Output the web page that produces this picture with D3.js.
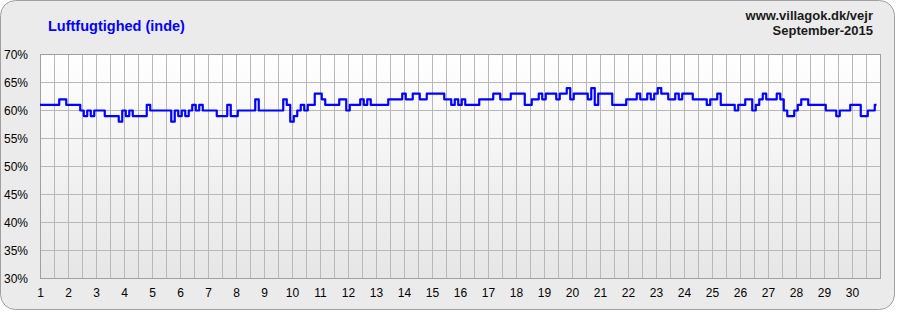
<!DOCTYPE html>
<html>
<head>
<meta charset="utf-8">
<script src="https://cdn.jsdelivr.net/npm/d3@7/dist/d3.min.js"></script>
<style>
  body { margin: 0; background: #fff; }
  svg { display: block; font-family: "Liberation Sans", Arial, sans-serif; }
</style>
</head>
<body>
<svg width="897" height="312"></svg>
<script>
// humidity readings, 8 per day (every 3 hours), Sept 1 - 30
const humidity = [
  61,61,61,61,61,61,62,62, // 1
  61,61,61,61,60,59,60,59, // 2
  60,60,60,59,59,59,59,58, // 3
  60,59,60,59,59,59,59,61, // 4
  60,60,60,60,60,60,58,60, // 5
  59,60,59,60,61,60,61,60, // 6
  60,60,60,59,59,59,61,59, // 7
  59,60,60,60,60,60,62,60, // 8
  60,60,60,60,60,60,62,61, // 9
  58,59,60,61,60,61,61,63, // 10
  63,62,61,61,61,61,62,62, // 11
  60,61,61,61,62,61,62,61, // 12
  61,61,61,61,62,62,62,62, // 13
  63,62,62,63,63,62,62,63, // 14
  63,63,63,63,62,62,61,62, // 15
  61,62,61,61,61,61,62,62, // 16
  62,62,63,63,62,62,62,63, // 17
  63,63,63,61,61,62,62,63, // 18
  62,63,63,63,62,63,63,64, // 19
  62,63,63,63,63,62,64,61, // 20
  63,63,63,63,61,61,61,61, // 21
  62,62,62,63,62,62,63,62, // 22
  63,64,63,63,62,62,63,62, // 23
  63,63,63,62,62,62,62,61, // 24
  62,62,63,61,61,61,61,60, // 25
  61,61,62,62,60,61,62,63, // 26
  62,62,62,63,62,60,59,59, // 27
  60,61,62,62,61,61,61,61, // 28
  61,60,60,60,59,60,60,60, // 29
  61,61,61,59,59,60,60,61  // 30
]
const perDay = 8

const dayLabels = ["1","2","3","4","5","6","7","8","9","10","11","12","13","14","15",
                   "16","17","18","19","20","21","22","23","24","25","26","27","28","29","30"]
const yTicks = [30, 35, 40, 45, 50, 55, 60, 65, 70]

const title = "Luftfugtighed (inde)"
const site = "www.villagok.dk/vejr"
const period = "September-2015"

const svg = d3.select("svg")

const plotLeft = 40, plotRight = 880, plotTop = 54.5, plotBottom = 278.5

const x = d3.scaleLinear().domain([0, dayLabels.length]).range([plotLeft, plotRight])
const y = d3.scaleLinear().domain([30, 70]).range([plotBottom, plotTop])

// background panel
svg.append("rect")
  .attr("x", 0.5).attr("y", 0.5)
  .attr("width", 894).attr("height", 309)
  .attr("rx", 15).attr("ry", 15)
  .attr("fill", "#ebebeb")
  .attr("stroke", "#a0a0a0")

const defs = svg.append("defs")
const grad = defs.append("linearGradient")
  .attr("id", "plotbg")
  .attr("x1", 0).attr("y1", 0).attr("x2", 0).attr("y2", 1)
grad.append("stop").attr("offset", "0%").attr("stop-color", "#ffffff")
grad.append("stop").attr("offset", "100%").attr("stop-color", "#e6e6e6")

svg.append("rect")
  .attr("x", plotLeft).attr("y", plotTop)
  .attr("width", plotRight - plotLeft).attr("height", plotBottom - plotTop)
  .attr("fill", "url(#plotbg)")

// grid
const halfDays = d3.range(0.5, dayLabels.length, 0.5)
svg.append("g")
  .selectAll("line")
  .data(halfDays).enter()
  .append("line")
  .attr("x1", d => Math.round(x(d)) + 0.5)
  .attr("x2", d => Math.round(x(d)) + 0.5)
  .attr("y1", plotTop).attr("y2", plotBottom)
  .attr("stroke", "#b8b8b8")

svg.append("g")
  .selectAll("line")
  .data(yTicks).enter()
  .append("line")
  .attr("x1", plotLeft).attr("x2", plotRight)
  .attr("y1", d => y(d)).attr("y2", d => y(d))
  .attr("stroke", "#b8b8b8")

svg.append("rect")
  .attr("x", plotLeft + 0.5).attr("y", plotTop)
  .attr("width", plotRight - plotLeft).attr("height", plotBottom - plotTop)
  .attr("fill", "none")
  .attr("stroke", "#a0a0a0")

// axes (labels only)
svg.append("g")
  .attr("transform", `translate(${plotLeft},0)`)
  .call(d3.axisLeft(y).tickValues(yTicks).tickFormat(d => d + "%").tickSize(0).tickPadding(12))
svg.append("g")
  .attr("transform", `translate(0,${plotBottom})`)
  .call(d3.axisBottom(x).tickValues(d3.range(0, dayLabels.length)).tickFormat(d => dayLabels[d]).tickSize(0).tickPadding(10))

svg.selectAll(".domain").remove()
svg.selectAll(".tick text")
  .attr("font-family", "'Liberation Sans', Arial, sans-serif")
  .attr("font-size", 12)
  .attr("fill", "#000")

// humidity line - readings are whole percents, so draw as steps
const line = d3.line()
  .x((d, i) => x(i / perDay))
  .y(d => y(d))
  .curve(d3.curveStep)

svg.append("path")
  .datum(humidity)
  .attr("d", line)
  .attr("fill", "none")
  .attr("stroke", "#0000ff")
  .attr("stroke-width", 2.2)
  .attr("stroke-linejoin", "round")

// titles
svg.append("text")
  .attr("x", 48).attr("y", 31)
  .attr("font-size", 14.5)
  .attr("font-weight", "bold")
  .attr("fill", "#0000ff")
  .text(title)

svg.append("text")
  .attr("x", 873).attr("y", 20)
  .attr("text-anchor", "end")
  .attr("font-size", 13)
  .attr("font-weight", "bold")
  .attr("fill", "#1a1a1a")
  .text(site)

svg.append("text")
  .attr("x", 873).attr("y", 35)
  .attr("text-anchor", "end")
  .attr("font-size", 13)
  .attr("font-weight", "bold")
  .attr("fill", "#1a1a1a")
  .text(period)
</script>
</body>
</html>
